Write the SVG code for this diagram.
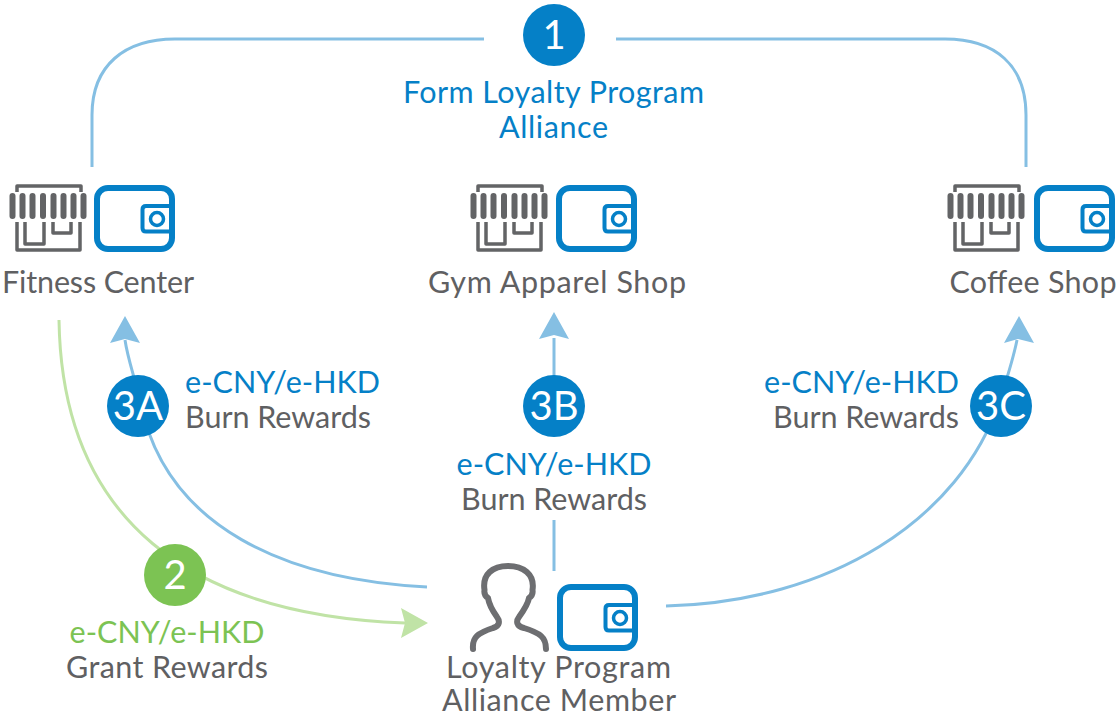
<svg xmlns="http://www.w3.org/2000/svg" width="1118" height="715" viewBox="0 0 1118 715">
<style>
text{font-family:"Lato","Liberation Sans",sans-serif;font-size:30.5px;text-anchor:middle}
.g{fill:#5f6062}.b{fill:#0580c7}.gr{fill:#7cc353}
.n{font-size:40px;fill:#fff}
.c{fill:none;stroke:#85bfe3;stroke-width:3}
.cg{fill:none;stroke:#c0e3a6;stroke-width:3}
.w{fill:none;stroke:#0580c7}
.s{fill:none;stroke:#636466;stroke-width:3.500;stroke-linejoin:round}
</style>
<defs>
<g id="store">
<path class="s" d="M17 192V186H81V192M17 222V250H80V222M25 222V244H44V222M53 222V233H71V222"/>
<g fill="#636466"><rect x="9.500" y="193" width="6" height="26" rx="3"/><rect x="19.500" y="193" width="6" height="26" rx="3"/><rect x="29.500" y="193" width="6" height="26" rx="3"/><rect x="40" y="193" width="6" height="26" rx="3"/><rect x="50.500" y="193" width="6" height="26" rx="3"/><rect x="60.500" y="193" width="6" height="26" rx="3"/><rect x="70.500" y="193" width="6" height="26" rx="3"/><rect x="80.500" y="193" width="6" height="26" rx="3"/></g>
</g>
<g id="wallet">
<rect class="w" x="97" y="188" width="75" height="61" rx="11" stroke-width="6"/>
<path class="w" stroke-width="4" d="M172 206H146Q142.500 206 142.500 209.500V228Q142.500 231.500 146 231.500H172"/>
<circle class="w" stroke-width="3.500" cx="157" cy="219" r="6.500"/>
</g>
</defs>
<g id="connectors">
<path class="c" d="M92 167V115C92 65 125 39 175 39H484"/>
<path class="c" d="M616 39H945C995 39 1026 65 1026 115V167"/>
<path class="c" d="M427 587C290 580 165 530 140 400C134 375 128 360 125 340"/>
<path d="M125 316L140 343L125 339L110 343Z" fill="#85bfe3"/>
<path class="c" d="M554 571V520M554 380V338"/>
<path d="M554 312L569 339L554 335L539 339Z" fill="#85bfe3"/>
<path class="c" d="M666 606C830 602 960 520 1000 400C1008 375 1013 360 1017 340"/>
<path d="M1019 316L1034 343L1018 339L1004 343Z" fill="#85bfe3"/>
<path class="cg" d="M59 320C62 520 190 615 405 623"/>
<path d="M428 623L401 608L405 623L401 638Z" fill="#c0e3a6"/>
</g>
<g id="step-1"><circle cx="554" cy="35" r="31" class="b"/><text class="n" x="554" y="49">1</text>
<text class="b" x="553.500" y="103" textLength="301">Form Loyalty Program</text><text class="b" x="553.500" y="138" textLength="109">Alliance</text></g>
<g id="fitness-center"><use href="#store"/><use href="#wallet"/><text class="g" x="98" y="293" textLength="192">Fitness Center</text></g>
<g id="gym-apparel-shop"><use href="#store" x="461"/><use href="#wallet" x="462"/><text class="g" x="557" y="293" textLength="258">Gym Apparel Shop</text></g>
<g id="coffee-shop"><use href="#store" x="938"/><use href="#wallet" x="940"/><text class="g" x="1033" y="293" textLength="167">Coffee Shop</text></g>
<g id="step-3a"><circle cx="138" cy="406" r="31" class="b"/><text class="n" x="138" y="420">3A</text>
<text class="b" x="185" y="393" textLength="195" style="text-anchor:start">e-CNY/e-HKD</text><text class="g" x="185" y="428" textLength="186" style="text-anchor:start">Burn Rewards</text></g>
<g id="step-3b"><circle cx="554" cy="406" r="31" class="b"/><text class="n" x="554" y="420">3B</text>
<text class="b" x="554" y="475" textLength="195">e-CNY/e-HKD</text><text class="g" x="554" y="510" textLength="186">Burn Rewards</text></g>
<g id="step-3c"><circle cx="1001" cy="406" r="31" class="b"/><text class="n" x="1001" y="420">3C</text>
<text class="b" x="959" y="393" textLength="195" style="text-anchor:end">e-CNY/e-HKD</text><text class="g" x="959" y="428" textLength="186" style="text-anchor:end">Burn Rewards</text></g>
<g id="step-2"><circle cx="175" cy="575" r="31" class="gr"/><text class="n" x="175" y="589">2</text>
<text class="gr" x="167" y="643" textLength="195">e-CNY/e-HKD</text><text class="g" x="167" y="678" textLength="202">Grant Rewards</text></g>
<g id="member">
<path d="M473 649C472 637 478 633 493 628C500 626 500 621 497 617C492 610 489 604 488 598C485 596 484 593 484.500 590C482 574 493 566 508 566C523 566 535 574 532.500 590C533 593 532 596 529 598C528 604 524 610 519 617C516 621 516 626 524 628C540 633 546 637 546 649" fill="none" stroke="#6d6e71" stroke-width="6" stroke-linecap="round" stroke-linejoin="round"/>
<use href="#wallet" x="463" y="399"/>
<text class="g" x="558.500" y="678" textLength="225">Loyalty Program</text><text class="g" x="559" y="711" textLength="234">Alliance Member</text></g>
</svg>
